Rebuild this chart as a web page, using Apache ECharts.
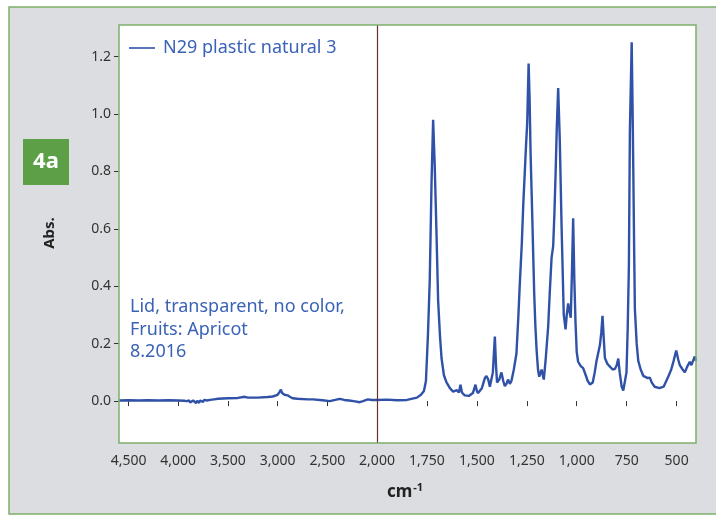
<!DOCTYPE html>
<html>
<head>
<meta charset="utf-8">
<script src="https://cdn.jsdelivr.net/npm/echarts@6/dist/echarts.min.js"></script>
<style>
  html, body { margin: 0; padding: 0; background: #fff; }
  #chart { width: 716px; height: 516px; }
</style>
</head>
<body>
<div id="chart"></div>
<script>
// ---- IR spectrum, N29 plastic natural 3 ----
// high-wavenumber part 4596..2000 cm-1 (compressed scale)
var highWavenumbers = [
  4596, 4500, 4400, 4300, 4200,
  4100, 4000, 3940, 3915, 3900,
  3890, 3880, 3870, 3860, 3850,
  3840, 3830, 3820, 3810, 3800,
  3790, 3780, 3770, 3760, 3750,
  3740, 3730, 3720, 3710, 3700,
  3680, 3660, 3640, 3620, 3600,
  3500, 3400, 3330, 3300, 3200,
  3100, 3050, 3000, 2980, 2967,
  2955, 2930, 2900, 2877, 2850,
  2800, 2700, 2645, 2550, 2475,
  2420, 2375, 2330, 2280, 2220,
  2174, 2140, 2093, 2050, 2000
];
var highAbs = [
  0.002, 0.003, 0.002, 0.003, 0.002,
  0.003, 0.002, 0.001, 0.000, -0.004,
  0.002, -0.005, 0.001, -0.006, 0.002,
  -0.004, 0.000, -0.007, 0.001, -0.003,
  -0.006, 0.002, -0.004, 0.003, -0.003,
  0.004, 0.000, 0.005, 0.002, 0.006,
  0.004, 0.008, 0.006, 0.009, 0.008,
  0.010, 0.011, 0.015, 0.012, 0.012,
  0.014, 0.016, 0.022, 0.032, 0.040,
  0.028, 0.022, 0.020, 0.015, 0.010,
  0.008, 0.006, 0.006, 0.003, 0.000,
  0.004, 0.008, 0.004, 0.002, -0.001,
  -0.004, 0.000, 0.006, 0.004, 0.004
];

// low-wavenumber part 2000..403 cm-1 (expanded scale)
var lowWavenumbers = [
  2000,
  1950, 1900, 1850, 1800, 1780, 1765, 1755, 1745, 1736, 1727, 1719, 1711, 1702, 1694,
  1685, 1677, 1665, 1652, 1635, 1619, 1600, 1590, 1582, 1575, 1561, 1540, 1520, 1507,
  1500, 1494, 1475, 1460, 1452, 1443, 1435, 1420, 1410, 1404, 1399, 1388, 1377, 1368,
  1360, 1352, 1344, 1335, 1327, 1315, 1302, 1292, 1285, 1275, 1268, 1260, 1255, 1248,
  1241, 1236, 1231, 1223, 1213, 1207, 1201, 1194, 1188, 1182, 1176, 1170, 1165, 1155,
  1143, 1135, 1126, 1118, 1112, 1106, 1100, 1093, 1085, 1076, 1065, 1056, 1050, 1043,
  1036, 1030, 1024, 1018, 1012, 1006, 1000, 993, 980, 968, 955, 945, 934, 920, 910,
  901, 884, 877, 871, 865, 859, 847, 834, 820, 809, 800, 792, 785, 775, 767, 758, 751,
  745, 739, 734, 725, 721, 717, 713, 709, 700, 692, 680, 667, 645, 634, 625, 610, 586,
  565, 545, 527, 515, 502, 492, 484, 470, 459, 447, 434, 426, 418, 409, 403
];
var lowAbs = [
  0.004,
  0.005, 0.003, 0.004, 0.012, 0.022, 0.035, 0.07, 0.23, 0.42, 0.76, 0.98, 0.82, 0.58, 0.35,
  0.23, 0.15, 0.09, 0.065, 0.045, 0.033, 0.038, 0.03, 0.057, 0.03, 0.02, 0.018, 0.028, 0.057,
  0.035, 0.028, 0.045, 0.08, 0.087, 0.075, 0.05, 0.10, 0.225, 0.12, 0.065, 0.075, 0.10, 0.07,
  0.052, 0.06, 0.075, 0.06, 0.07, 0.11, 0.165, 0.30, 0.41, 0.55, 0.68, 0.80, 0.875, 0.97,
  1.176, 1.05, 0.86, 0.65, 0.375, 0.26, 0.178, 0.11, 0.085, 0.09, 0.11, 0.09, 0.075, 0.15,
  0.26, 0.38, 0.50, 0.54, 0.65, 0.79, 0.95, 1.09, 0.91, 0.61, 0.30, 0.25, 0.30, 0.34,
  0.31, 0.29, 0.45, 0.637, 0.42, 0.27, 0.17, 0.137, 0.122, 0.115, 0.09, 0.07, 0.058, 0.065, 0.10,
  0.14, 0.195, 0.24, 0.297, 0.22, 0.15, 0.13, 0.12, 0.11, 0.112, 0.125, 0.148, 0.10, 0.05, 0.037, 0.042, 0.10,
  0.25, 0.47, 0.94, 1.25, 1.05, 0.81, 0.55, 0.32, 0.20, 0.14, 0.11, 0.088, 0.08, 0.082, 0.065, 0.05, 0.045,
  0.05, 0.08, 0.11, 0.14, 0.176, 0.145, 0.125, 0.11, 0.10, 0.12, 0.137, 0.125, 0.14, 0.155, 0.14
];

// tick labels
var xTicksHigh = [4500, 4000, 3500, 3000, 2500];
var xTicksLow  = [2000, 1750, 1500, 1250, 1000, 750, 500];
var yTicks     = [0, 0.2, 0.4, 0.6, 0.8, 1.0, 1.2];

var seriesName = "N29 plastic natural 3";
var noteLines  = ["Lid, transparent, no color,", "Fruits: Apricot", "8.2016"];

function pairs(xs, ys) {
  return xs.map(function (x, i) { return [x, ys[i]]; });
}

var FONT = "Noto Sans";
var LINE = "#2f51a8";
var TXT_BLUE = "#3a62b6";
var GREEN = "#7cb069";

function fmtThousands(v) {
  return String(v).replace(/\B(?=(\d{3})+(?!\d))/g, ",");
}

function xAxisFor(idx, min, max, ticks) {
  return {
    type: "value", gridIndex: idx, min: min, max: max, inverse: true,
    axisLine: { show: false },
    splitLine: { show: false },
    axisTick: { show: true, length: 5, customValues: ticks, lineStyle: { color: "#333", width: 1 } },
    axisLabel: { customValues: ticks, color: "#333", fontFamily: FONT, fontSize: 14, margin: 11, formatter: fmtThousands }
  };
}

var chart = echarts.init(document.getElementById("chart"));
chart.setOption({
  animation: false,
  backgroundColor: "#fff",
  grid: [
    { left: 119, top: 25, width: 258, height: 418, show: true, backgroundColor: "#fff", borderWidth: 0 },
    { left: 377, top: 25, width: 319, height: 418, show: true, backgroundColor: "#fff", borderWidth: 0 }
  ],
  xAxis: [
    xAxisFor(0, 2000, 4596, xTicksHigh),
    xAxisFor(1, 403, 2000, xTicksLow)
  ],
  yAxis: [
    {
      type: "value", gridIndex: 0, min: -0.146, max: 1.31,
      axisLine: { show: false },
      splitLine: { show: false },
      axisTick: { show: true, length: 5, customValues: yTicks, lineStyle: { color: "#333" } },
      axisLabel: {
        customValues: yTicks, color: "#333", fontFamily: FONT, fontSize: 14, margin: 8,
        formatter: function (v) { return v.toFixed(1); }
      }
    },
    { type: "value", gridIndex: 1, min: -0.146, max: 1.31, show: false }
  ],
  legend: {
    data: [seriesName],
    left: 129, top: 39,
    padding: 0,
    icon: "rect",
    itemWidth: 26, itemHeight: 1.6,
    textStyle: { color: TXT_BLUE, fontFamily: FONT, fontSize: 18, padding: [0, 0, 0, 3] }
  },
  series: [
    {
      name: seriesName, type: "line", xAxisIndex: 0, yAxisIndex: 0,
      data: pairs(highWavenumbers, highAbs), showSymbol: false, symbol: "none",
      lineStyle: { color: LINE, width: 2.4 }, itemStyle: { color: LINE }
    },
    {
      name: seriesName, type: "line", xAxisIndex: 1, yAxisIndex: 1,
      data: pairs(lowWavenumbers, lowAbs), showSymbol: false, symbol: "none",
      lineStyle: { color: LINE, width: 2.4 }, itemStyle: { color: LINE },
      markLine: {
        silent: true, symbol: "none", label: { show: false },
        lineStyle: { color: "#6a2f2f", width: 1.2, type: "solid" },
        data: [{ xAxis: 2000 }]
      }
    }
  ],
  graphic: [
    // outer gray panel
    { type: "rect", z: -100, shape: { x: 9, y: 7, width: 740, height: 507 },
      style: { fill: "#dcdde0", stroke: GREEN, lineWidth: 1.5 } },
    // plot border
    { type: "rect", z: 100, shape: { x: 119, y: 25, width: 577, height: 418 },
      style: { fill: null, stroke: GREEN, lineWidth: 1.5 } },
    // "4a" badge
    { type: "rect", z: 10, shape: { x: 23, y: 139, width: 46, height: 46 },
      style: { fill: "#5d9f47" } },
    { type: "text", z: 11, x: 46, y: 162,
      style: { text: "4a", fill: "#fff", font: "bold 22px " + FONT, align: "center", verticalAlign: "middle" } },
    // y-axis title
    { type: "text", z: 10, x: 50, y: 233, rotation: Math.PI / 2,
      style: { text: "Abs.", fill: "#222", font: "bold 15px " + FONT, align: "center", verticalAlign: "middle" } },
    // x-axis title cm^-1
    { type: "text", z: 10, x: 405, y: 492,
      style: {
        text: "{b|cm}{s|-1}", align: "center", verticalAlign: "middle",
        rich: {
          b: { fill: "#222", font: "bold 17px " + FONT },
          s: { fill: "#222", font: "bold 11px " + FONT, verticalAlign: "top", padding: [0, 0, 9, 1] }
        }
      } },
    // sample note
    { type: "text", z: 50, x: 130, y: 296,
      style: { text: noteLines.join("\n"), fill: TXT_BLUE, font: "18px " + FONT, lineHeight: 22.5 } }
  ]
});
</script>
</body>
</html>
